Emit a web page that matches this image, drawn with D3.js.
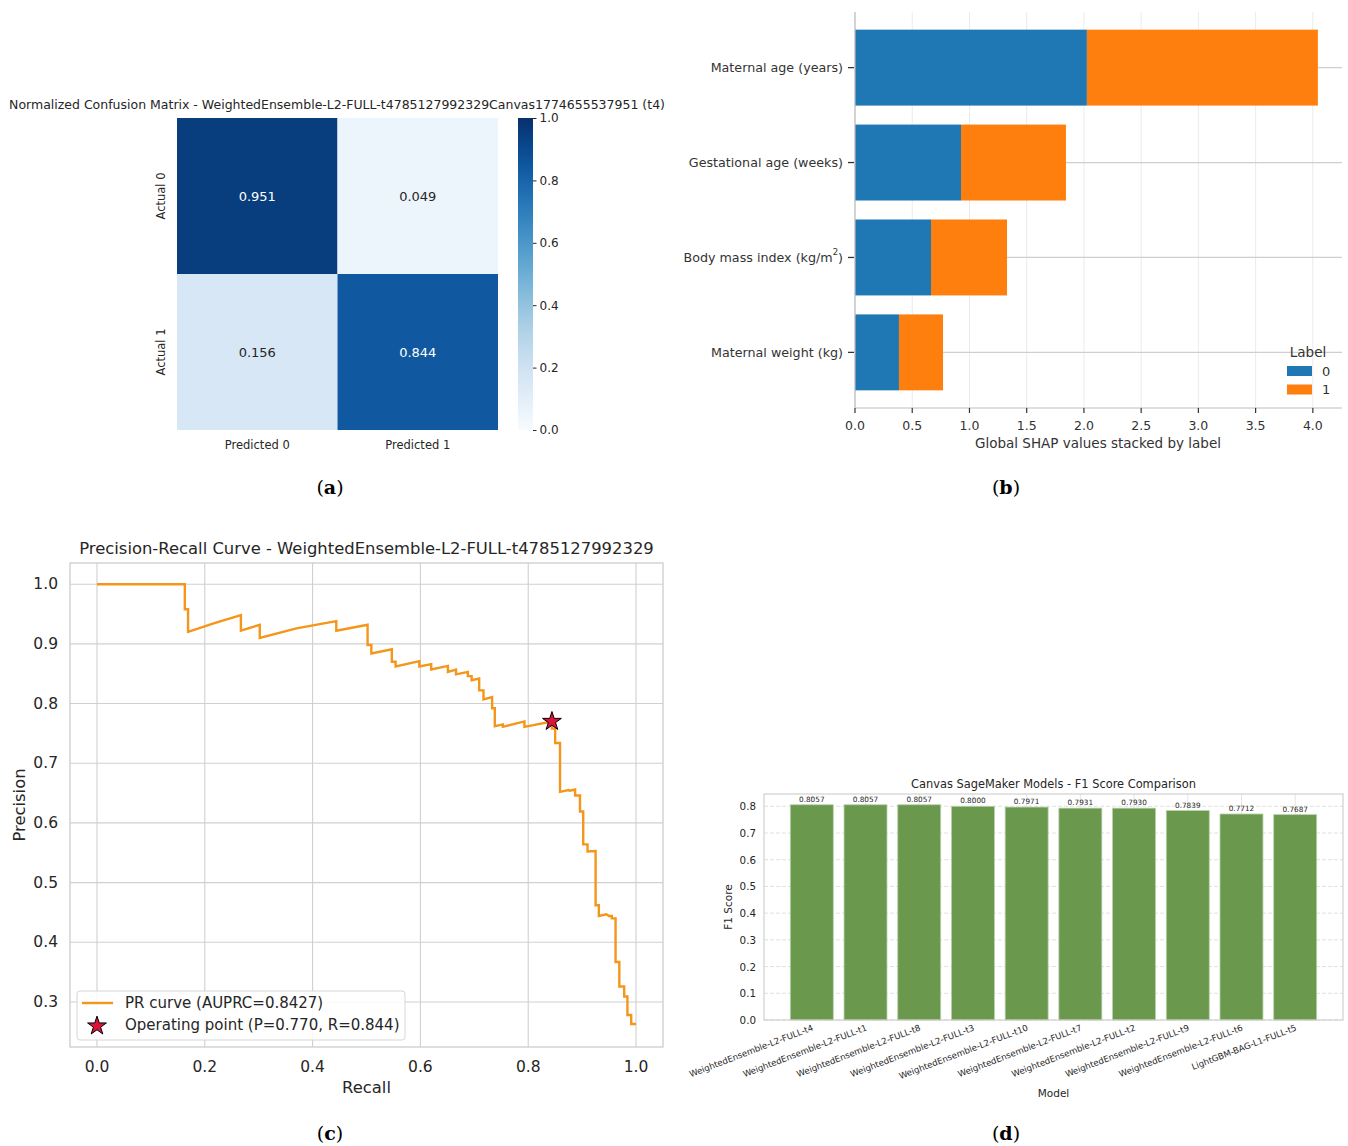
<!DOCTYPE html>
<html>
<head>
<meta charset="utf-8">
<script src="https://cdn.jsdelivr.net/npm/d3@7"></script>
<style>
  html, body { margin: 0; padding: 0; background: #ffffff; }
  svg { display: block; }
  text { font-family: "DejaVu Sans", sans-serif; fill: #262626; }
</style>
</head>
<body>
<svg id="fig" width="1348" height="1146"></svg>
<script>
// ---------- (a) normalized confusion matrix ----------
const cmRows = ["Actual 0", "Actual 1"];
const cmCols = ["Predicted 0", "Predicted 1"];
const cmValues = [[0.951, 0.049], [0.156, 0.844]];
const cbTicks = [0.0, 0.2, 0.4, 0.6, 0.8, 1.0];

// ---------- (b) global SHAP values stacked by label ----------
const shapFeatures = ["Maternal age (years)", "Gestational age (weeks)", "Body mass index (kg/m2)", "Maternal weight (kg)"];
const shapLabel0 = [2.026, 0.926, 0.664, 0.384];
const shapLabel1 = [2.018, 0.917, 0.664, 0.385];
const shapLegend = ["0", "1"];
const shapTicks = [0, 0.5, 1.0, 1.5, 2.0, 2.5, 3.0, 3.5, 4.0];

// ---------- (c) precision-recall curve ----------
const prRecall = [0, 0.163, 0.163, 0.169, 0.169, 0.215, 0.267, 0.267, 0.302, 0.302, 0.370, 0.444, 0.444, 0.502, 0.502, 0.509, 0.509,
  0.547, 0.547, 0.554, 0.554, 0.598, 0.598, 0.620, 0.620, 0.651, 0.651, 0.666, 0.666, 0.688, 0.688, 0.695, 0.695, 0.709, 0.709,
  0.717, 0.717, 0.733, 0.733, 0.738, 0.738, 0.753, 0.753, 0.793, 0.793, 0.844, 0.844, 0.850, 0.850, 0.859, 0.859, 0.875, 0.877,
  0.887, 0.887, 0.896, 0.896, 0.902, 0.902, 0.910, 0.910, 0.925, 0.925, 0.931, 0.931, 0.945, 0.950, 0.955, 0.955, 0.962, 0.962,
  0.969, 0.969, 0.978, 0.978, 0.984, 0.984, 0.991, 0.991, 1.0];
const prPrecision = [1.0, 1.0, 0.958, 0.958, 0.920, 0.934, 0.948, 0.922, 0.932, 0.910, 0.926, 0.938, 0.922, 0.932, 0.898, 0.898, 0.884,
  0.891, 0.870, 0.870, 0.862, 0.871, 0.862, 0.866, 0.857, 0.863, 0.853, 0.857, 0.849, 0.853, 0.846, 0.846, 0.839, 0.842, 0.822,
  0.822, 0.807, 0.811, 0.792, 0.792, 0.762, 0.765, 0.761, 0.770, 0.761, 0.770, 0.758, 0.758, 0.734, 0.734, 0.652, 0.655, 0.654,
  0.656, 0.646, 0.646, 0.619, 0.619, 0.564, 0.564, 0.552, 0.553, 0.462, 0.462, 0.444, 0.447, 0.444, 0.444, 0.440, 0.440, 0.367,
  0.367, 0.326, 0.326, 0.309, 0.309, 0.278, 0.278, 0.263, 0.263];
const opPoint = { precision: 0.770, recall: 0.844 };
const auprc = 0.8427;
const prXTicks = [0.0, 0.2, 0.4, 0.6, 0.8, 1.0];
const prYTicks = [0.3, 0.4, 0.5, 0.6, 0.7, 0.8, 0.9, 1.0];

// ---------- (d) F1 score comparison ----------
const f1Models = ["WeightedEnsemble-L2-FULL-t4", "WeightedEnsemble-L2-FULL-t1", "WeightedEnsemble-L2-FULL-t8",
  "WeightedEnsemble-L2-FULL-t3", "WeightedEnsemble-L2-FULL-t10", "WeightedEnsemble-L2-FULL-t7",
  "WeightedEnsemble-L2-FULL-t2", "WeightedEnsemble-L2-FULL-t9", "WeightedEnsemble-L2-FULL-t6", "LightGBM-BAG-L1-FULL-t5"];
const f1Scores = [0.8057, 0.8057, 0.8057, 0.8000, 0.7971, 0.7931, 0.7930, 0.7839, 0.7712, 0.7687];
const f1Ticks = [0.0, 0.1, 0.2, 0.3, 0.4, 0.5, 0.6, 0.7, 0.8];

const svg = d3.select("#fig");
const fmt1 = d3.format(".1f");

// ================= (a) =================
(function drawConfusion() {
  const g = svg.append("g");
  const x = d3.scaleBand().domain(cmCols).range([177, 498]);
  const y = d3.scaleBand().domain(cmRows).range([118, 430]);
  const color = d3.scaleSequential(d3.interpolateBlues).domain([0, 1]);

  cmRows.forEach((r, i) => cmCols.forEach((c, j) => {
    const v = cmValues[i][j];
    g.append("rect").attr("x", x(c)).attr("y", y(r))
      .attr("width", x.bandwidth()).attr("height", y.bandwidth())
      .attr("fill", color(v));
    g.append("text").attr("x", x(c) + x.bandwidth() / 2).attr("y", y(r) + y.bandwidth() / 2)
      .attr("text-anchor", "middle").attr("dominant-baseline", "central")
      .style("font-size", "13px").style("fill", v > 0.5 ? "#ffffff" : "#262626")
      .text(v.toFixed(3));
  }));

  g.append("text").attr("x", 337).attr("y", 109).attr("text-anchor", "middle")
    .style("font-size", "12.5px").text("Normalized Confusion Matrix - WeightedEnsemble-L2-FULL-t4785127992329Canvas1774655537951 (t4)");

  cmCols.forEach(c => g.append("text").attr("x", x(c) + x.bandwidth() / 2).attr("y", 449)
    .attr("text-anchor", "middle").style("font-size", "11.5px").text(c));
  cmRows.forEach(r => g.append("text")
    .attr("transform", `translate(165,${y(r) + y.bandwidth() / 2}) rotate(-90)`)
    .attr("text-anchor", "middle").style("font-size", "11.5px").text(r));

  // colour bar
  const defs = svg.append("defs");
  const grad = defs.append("linearGradient").attr("id", "blues").attr("x1", 0).attr("y1", 1).attr("x2", 0).attr("y2", 0);
  d3.range(0, 1.0001, 0.05).forEach(t => grad.append("stop").attr("offset", t).attr("stop-color", color(t)));
  const cb = d3.scaleLinear().domain([0, 1]).range([430, 118]);
  g.append("rect").attr("x", 518).attr("y", 118).attr("width", 15).attr("height", 312).attr("fill", "url(#blues)");
  const ax = g.append("g").attr("transform", "translate(533,0)")
    .call(d3.axisRight(cb).tickValues(cbTicks).tickFormat(fmt1).tickSize(3.5).tickPadding(3));
  ax.select(".domain").remove();
  ax.selectAll(".tick line").attr("stroke", "#262626");
  ax.selectAll("text").style("font-size", "12px").style("font-family", "DejaVu Sans").style("fill", "#262626");
})();

// ================= (b) =================
(function drawShap() {
  const g = svg.append("g");
  const x = d3.scaleLinear().domain([0, 4.246]).range([855, 1341]);
  const y = d3.scaleBand().domain(shapFeatures).range([12, 408]).paddingInner(0.2).paddingOuter(0.186);
  const colors = ["#1f77b4", "#ff7f0e"];

  shapTicks.forEach(t => g.append("line").attr("x1", x(t)).attr("x2", x(t)).attr("y1", 12).attr("y2", 408)
    .attr("stroke", "#ebebeb").attr("stroke-width", 1));
  shapFeatures.forEach(f => g.append("line").attr("x1", 855).attr("x2", 1342)
    .attr("y1", y(f) + y.bandwidth() / 2).attr("y2", y(f) + y.bandwidth() / 2)
    .attr("stroke", "#cfcfcf").attr("stroke-width", 1.2));

  shapFeatures.forEach((f, i) => {
    const a = shapLabel0[i], b = shapLabel1[i];
    g.append("rect").attr("x", x(0)).attr("y", y(f)).attr("width", x(a) - x(0)).attr("height", y.bandwidth())
      .attr("fill", colors[0]);
    g.append("rect").attr("x", x(a)).attr("y", y(f)).attr("width", x(a + b) - x(a)).attr("height", y.bandwidth())
      .attr("fill", colors[1]);
  });

  // spines
  g.append("line").attr("x1", 855).attr("x2", 855).attr("y1", 12).attr("y2", 408).attr("stroke", "#bdbdbd").attr("stroke-width", 1.2);
  g.append("line").attr("x1", 855).attr("x2", 1342).attr("y1", 408).attr("y2", 408).attr("stroke", "#bdbdbd").attr("stroke-width", 1.2);

  // y labels with ticks
  shapFeatures.forEach(f => {
    const cy = y(f) + y.bandwidth() / 2;
    g.append("line").attr("x1", 848).attr("x2", 854).attr("y1", cy).attr("y2", cy).attr("stroke", "#333").attr("stroke-width", 1.3);
    const t = g.append("text").attr("x", 843).attr("y", cy).attr("text-anchor", "end").attr("dominant-baseline", "central")
      .style("font-size", "12.7px").style("fill", "#333");
    if (f.endsWith("m2)")) {
      t.append("tspan").text(f.slice(0, -2));
      t.append("tspan").attr("dy", -5).style("font-size", "8.5px").text("2");
      t.append("tspan").attr("dy", 5).text(")");
    } else t.text(f);
  });

  // x ticks
  shapTicks.forEach(t => {
    g.append("line").attr("x1", x(t)).attr("x2", x(t)).attr("y1", 408).attr("y2", 413).attr("stroke", "#333").attr("stroke-width", 1.2);
    g.append("text").attr("x", x(t)).attr("y", 430).attr("text-anchor", "middle").style("font-size", "12.5px").style("fill", "#333").text(fmt1(t));
  });
  g.append("text").attr("x", 1098).attr("y", 448).attr("text-anchor", "middle").style("font-size", "13.5px").style("fill", "#333")
    .text("Global SHAP values stacked by label");

  // legend
  g.append("text").attr("x", 1308).attr("y", 357).attr("text-anchor", "middle").style("font-size", "13.5px").style("fill", "#333").text("Label");
  shapLegend.forEach((l, i) => {
    g.append("rect").attr("x", 1287).attr("y", 366 + i * 18.5).attr("width", 25).attr("height", 10).attr("fill", colors[i]);
    g.append("text").attr("x", 1322).attr("y", 371 + i * 18.5).attr("dominant-baseline", "central")
      .style("font-size", "13px").style("fill", "#333").text(l);
  });
})();

// ================= (c) =================
(function drawPR() {
  const g = svg.append("g");
  const L = 70, R = 663, T = 563, B = 1047;
  const x = d3.scaleLinear().domain([-0.05, 1.05]).range([L, R]);
  const y = d3.scaleLinear().domain([0.2245, 1.0355]).range([B, T]);

  prXTicks.forEach(t => g.append("line").attr("x1", x(t)).attr("x2", x(t)).attr("y1", T).attr("y2", B).attr("stroke", "#d0d0d0").attr("stroke-width", 1.1));
  prYTicks.forEach(t => g.append("line").attr("x1", L).attr("x2", R).attr("y1", y(t)).attr("y2", y(t)).attr("stroke", "#d0d0d0").attr("stroke-width", 1.1));
  g.append("rect").attr("x", L).attr("y", T).attr("width", R - L).attr("height", B - T)
    .attr("fill", "none").attr("stroke", "#cccccc").attr("stroke-width", 1.3);

  const pts = prRecall.map((r, i) => [r, prPrecision[i]]);
  g.append("path").datum(pts).attr("fill", "none").attr("stroke", "#f4961a").attr("stroke-width", 2.4)
    .attr("stroke-linejoin", "miter")
    .attr("d", d3.line().x(d => x(d[0])).y(d => y(d[1])));

  const star = d3.symbol().type(d3.symbolStar).size(110);
  g.append("path").attr("d", star()).attr("transform", `translate(${x(opPoint.recall)},${y(opPoint.precision)})`)
    .attr("fill", "#dc143c").attr("stroke", "#000").attr("stroke-width", 1);

  prXTicks.forEach(t => g.append("text").attr("x", x(t)).attr("y", 1072).attr("text-anchor", "middle").style("font-size", "15.5px").text(fmt1(t)));
  prYTicks.forEach(t => g.append("text").attr("x", 58).attr("y", y(t)).attr("text-anchor", "end").attr("dominant-baseline", "central")
    .style("font-size", "15.5px").text(fmt1(t)));

  g.append("text").attr("x", (L + R) / 2).attr("y", 554).attr("text-anchor", "middle").style("font-size", "16.4px")
    .text("Precision-Recall Curve - WeightedEnsemble-L2-FULL-t4785127992329");
  g.append("text").attr("x", (L + R) / 2).attr("y", 1093).attr("text-anchor", "middle").style("font-size", "16.4px").text("Recall");
  g.append("text").attr("transform", `translate(25,${(T + B) / 2}) rotate(-90)`).attr("text-anchor", "middle")
    .style("font-size", "16.4px").text("Precision");

  // legend
  g.append("rect").attr("x", 77).attr("y", 991).attr("width", 328).attr("height", 49).attr("rx", 3)
    .attr("fill", "rgba(255,255,255,0.85)").attr("stroke", "#d6d6d6").attr("stroke-width", 1);
  g.append("line").attr("x1", 82).attr("x2", 113).attr("y1", 1003).attr("y2", 1003).attr("stroke", "#f4961a").attr("stroke-width", 2.4);
  g.append("text").attr("x", 125).attr("y", 1003).attr("dominant-baseline", "central").style("font-size", "15px")
    .text(`PR curve (AUPRC=${auprc.toFixed(4)})`);
  g.append("path").attr("d", star()).attr("transform", "translate(97,1026)")
    .attr("fill", "#dc143c").attr("stroke", "#000").attr("stroke-width", 1);
  g.append("text").attr("x", 125).attr("y", 1025).attr("dominant-baseline", "central").style("font-size", "15px")
    .text(`Operating point (P=${opPoint.precision.toFixed(3)}, R=${opPoint.recall.toFixed(3)})`);
})();

// ================= (d) =================
(function drawF1() {
  const g = svg.append("g");
  const L = 764, R = 1343, T = 794, B = 1020;
  const x = d3.scaleBand().domain(f1Models).range([L, R]).paddingInner(0.2).paddingOuter(0.49);
  const y = d3.scaleLinear().domain([0, 0.846]).range([B, T]);

  f1Models.forEach(m => g.append("line").attr("x1", x(m) + x.bandwidth() / 2).attr("x2", x(m) + x.bandwidth() / 2)
    .attr("y1", T).attr("y2", B).attr("stroke", "#e4e4e4").attr("stroke-width", 1));
  f1Ticks.forEach(t => g.append("line").attr("x1", L).attr("x2", R).attr("y1", y(t)).attr("y2", y(t))
    .attr("stroke", "#dcdcdc").attr("stroke-width", 0.9).attr("stroke-dasharray", "4,2"));

  f1Models.forEach((m, i) => {
    g.append("rect").attr("x", x(m)).attr("y", y(f1Scores[i])).attr("width", x.bandwidth()).attr("height", y(0) - y(f1Scores[i]))
      .attr("fill", "#6a994e").attr("stroke", "#b9d1ab").attr("stroke-width", 0.8);
    g.append("text").attr("x", x(m) + x.bandwidth() / 2).attr("y", y(f1Scores[i]) - 3).attr("text-anchor", "middle")
      .style("font-size", "7.3px").text(f1Scores[i].toFixed(4));
    g.append("text").attr("transform", `translate(${x(m) + x.bandwidth() / 2 + 2},${B + 10}) rotate(-21)`)
      .attr("text-anchor", "end").style("font-size", "8.6px").text(m);
  });

  g.append("rect").attr("x", L).attr("y", T).attr("width", R - L).attr("height", B - T)
    .attr("fill", "none").attr("stroke", "#cccccc").attr("stroke-width", 1.1);

  f1Ticks.forEach(t => g.append("text").attr("x", 756).attr("y", y(t)).attr("text-anchor", "end").attr("dominant-baseline", "central")
    .style("font-size", "10.3px").text(fmt1(t)));
  g.append("text").attr("x", (L + R) / 2).attr("y", 788).attr("text-anchor", "middle").style("font-size", "11.4px")
    .text("Canvas SageMaker Models - F1 Score Comparison");
  g.append("text").attr("transform", `translate(732,${(T + B) / 2}) rotate(-90)`).attr("text-anchor", "middle")
    .style("font-size", "10.5px").text("F1 Score");
  g.append("text").attr("x", (L + R) / 2).attr("y", 1097).attr("text-anchor", "middle").style("font-size", "10.5px").text("Model");
})();

// ================= sub-figure captions =================
const captions = [["a", 330, 494], ["b", 1006, 494], ["c", 330, 1140], ["d", 1006, 1140]];
captions.forEach(([k, cx, cy]) => {
  const t = svg.append("text").attr("x", cx).attr("y", cy).attr("text-anchor", "middle")
    .style("font-family", "'DejaVu Serif', 'Liberation Serif', serif").style("font-size", "19px").style("fill", "#000");
  t.append("tspan").text("(");
  t.append("tspan").style("font-weight", "bold").text(k);
  t.append("tspan").text(")");
});
</script>
</body>
</html>
